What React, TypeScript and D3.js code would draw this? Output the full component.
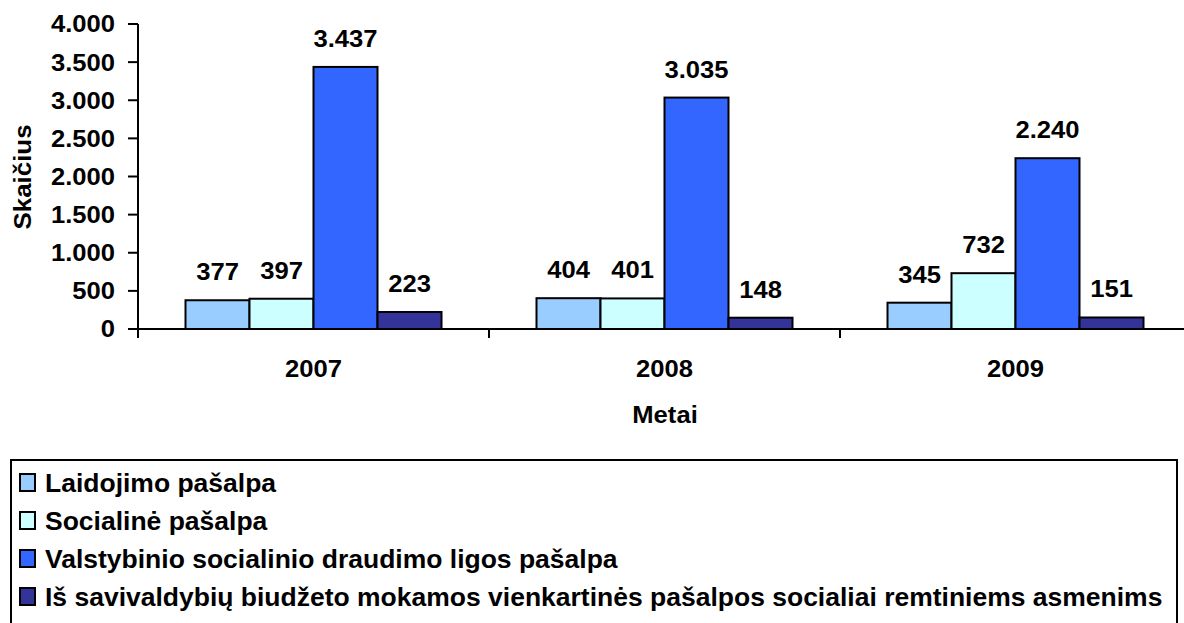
import React from "react";
import * as d3 from "d3";

const years = ["2007", "2008", "2009"];
const seriesNames = [
  "Laidojimo pašalpa",
  "Socialinė pašalpa",
  "Valstybinio socialinio draudimo ligos pašalpa",
  "Iš savivaldybių biudžeto mokamos vienkartinės pašalpos socialiai remtiniems asmenims",
];
const laidojimo = [377, 404, 345];
const socialine = [397, 401, 732];
const valstybinio = [3437, 3035, 2240];
const savivaldybiu = [223, 148, 151];
const seriesValues = [laidojimo, socialine, valstybinio, savivaldybiu];
const colors = ["#99CCFF", "#CCFFFF", "#3366FF", "#333399"];
const yTicks = [0, 500, 1000, 1500, 2000, 2500, 3000, 3500, 4000];

const W = 1184;
const H = 623;
const FONT = "Arial, 'Liberation Sans', sans-serif";

const locale = d3.formatLocale({
  decimal: ",",
  thousands: ".",
  grouping: [3],
  currency: ["", ""],
});
const fmt = locale.format(",d");

type TProps = {
  x: number;
  y: number;
  anchor?: "start" | "middle" | "end";
  size?: number;
  sx?: number;
  rotate?: number;
  dy?: string;
  children: React.ReactNode;
};

function T({ x, y, anchor = "middle", size = 23.5, sx = 1.09, rotate = 0, dy, children }: TProps) {
  return (
    <text
      transform={`translate(${x},${y}) rotate(${rotate}) scale(${sx},1)`}
      textAnchor={anchor}
      fontSize={size}
      dy={dy}
      fill="#000"
    >
      {children}
    </text>
  );
}

export default function App() {
  const x0 = 138;
  const catW = 351;
  const x = d3
    .scaleBand<string>()
    .domain(years)
    .range([x0, x0 + catW * 3])
    .paddingInner(0)
    .paddingOuter(0);
  const groupW = 256;
  const pad = (catW - groupW) / 2;
  const xs = d3
    .scaleBand<number>()
    .domain(seriesValues.map((_, i) => i))
    .range([pad, pad + groupW]);
  const y = d3.scaleLinear().domain([0, 4000]).range([329, 24]);

  return (
    <svg
      width={W}
      height={H}
      style={{ position: "absolute", left: 0, top: 0, background: "#fff" }}
      fontFamily={FONT}
      fontWeight="bold"
    >
      {/* bars */}
      {seriesValues.map((vals, si) =>
        years.map((yr, ci) => {
          const bx = (x(yr) as number) + (xs(si) as number);
          const bw = xs.bandwidth();
          const top = y(vals[ci]);
          return (
            <g key={`${si}-${ci}`}>
              <rect
                x={bx}
                y={top}
                width={bw}
                height={y(0) - top}
                fill={colors[si]}
                stroke="#000"
                strokeWidth={2}
              />
              <T x={bx + bw / 2} y={top - 20}>
                {fmt(vals[ci])}
              </T>
            </g>
          );
        })
      )}

      {/* y axis */}
      <line x1={x0} x2={x0} y1={y(4000)} y2={y(0) + 9} stroke="#000" strokeWidth={2} />
      {yTicks.map((t) => (
        <g key={t}>
          <line x1={x0 - 10} x2={x0} y1={y(t)} y2={y(t)} stroke="#000" strokeWidth={2} />
          <T x={115} y={y(t)} dy="0.36em" anchor="end">
            {fmt(t)}
          </T>
        </g>
      ))}

      {/* x axis */}
      <line x1={x0} x2={x0 + catW * 3} y1={y(0)} y2={y(0)} stroke="#000" strokeWidth={2} />
      {years.map((yr) => (
        <g key={yr}>
          <line
            x1={x(yr) as number}
            x2={x(yr) as number}
            y1={y(0)}
            y2={y(0) + 9}
            stroke="#000"
            strokeWidth={2}
          />
          <T x={(x(yr) as number) + x.bandwidth() / 2} y={377}>
            {yr}
          </T>
        </g>
      ))}

      {/* axis titles */}
      <T x={665} y={423}>
        Metai
      </T>
      <T x={31} y={177} rotate={-90} size={24} sx={1.08}>
        Skaičius
      </T>

      {/* legend */}
      <rect x={11} y={460} width={1166} height={200} fill="#fff" stroke="#000" strokeWidth={2} />
      {seriesNames.map((name, i) => {
        const by = 492 + i * 38;
        return (
          <g key={name}>
            <rect
              x={20}
              y={by - 18}
              width={15}
              height={17}
              fill={colors[i]}
              stroke="#000"
              strokeWidth={2}
            />
            <T x={45} y={by} anchor="start" size={25} sx={1.06}>
              {name}
            </T>
          </g>
        );
      })}
    </svg>
  );
}
